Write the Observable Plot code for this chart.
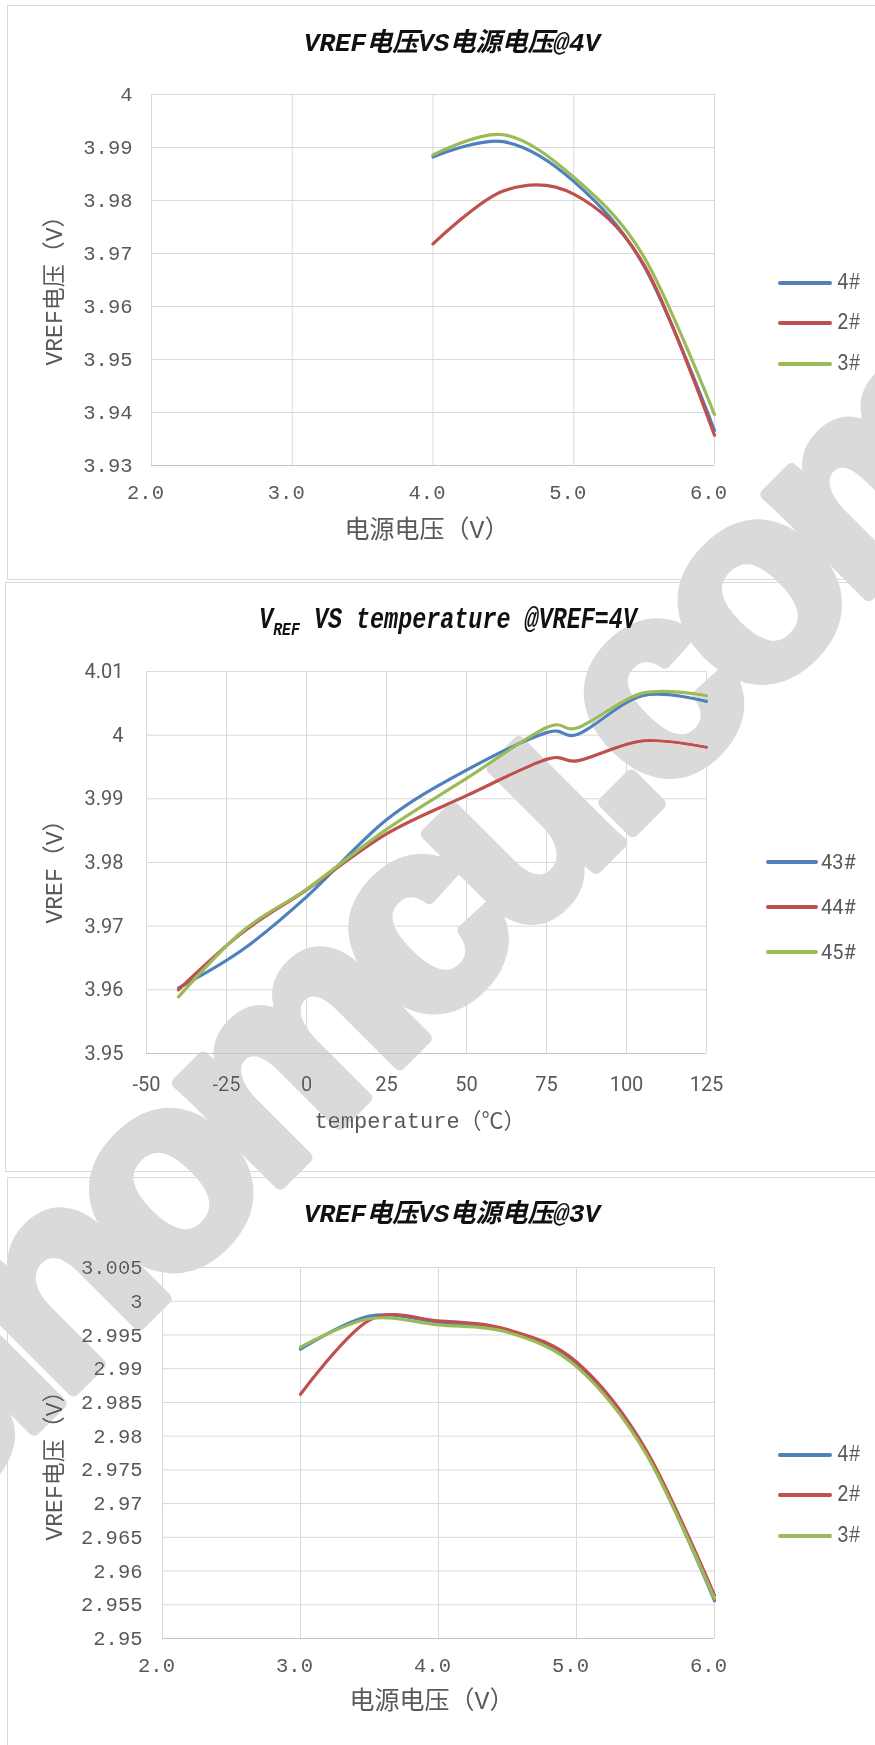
<!DOCTYPE html>
<html>
<head>
<meta charset="utf-8">
<script src="https://cdn.jsdelivr.net/npm/d3@7"></script>
<script src="https://cdn.jsdelivr.net/npm/@observablehq/plot@0.6"></script>
<style>
  body { margin: 0; background: #fff; }
  #page { position: relative; width: 875px; height: 1745px; overflow: hidden; background: #fff; }
  .frame { position: absolute; border: 1px solid #d9d9d9; box-sizing: border-box; }
  .abs { position: absolute; white-space: nowrap; line-height: 1; }
</style>
</head>
<body>
<div id="page"></div>
<script>
// ---------- Chart 1: VREF电压 VS 电源电压 @4V ----------
const supply4 = [4.0, 4.5, 5.0, 5.5, 6.0];
const vref4_4 = [3.9882, 3.9911, 3.9836, 3.9676, 3.9366];
const vref4_2 = [3.9718, 3.9818, 3.9812, 3.9678, 3.9357];
const vref4_3 = [3.9886, 3.9924, 3.9844, 3.9693, 3.9396];
const series1 = ["4#", "2#", "3#"];
const xTicks1 = [2, 3, 4, 5, 6];
const xLabels1 = ["2.0", "3.0", "4.0", "5.0", "6.0"];
const yTicks1 = [3.93, 3.94, 3.95, 3.96, 3.97, 3.98, 3.99, 4.00];
const yLabels1 = ["3.93", "3.94", "3.95", "3.96", "3.97", "3.98", "3.99", "4"];

// ---------- Chart 2: VREF VS temperature @VREF=4V ----------
const temps = [-40, -20, 0, 25, 50, 75, 85, 105, 125];
const vrefT_43 = [3.9603, 3.9663, 3.9746, 3.9867, 3.9945, 4.0004, 4.0002, 4.0062, 4.0053];
const vrefT_44 = [3.9600, 3.9690, 3.9757, 3.9845, 3.9905, 3.9962, 3.9960, 3.9991, 3.9981];
const vrefT_45 = [3.9589, 3.9692, 3.9758, 3.9852, 3.9932, 4.0012, 4.0012, 4.0066, 4.0062];
const series2 = ["43#", "44#", "45#"];
const xTicks2 = [-50, -25, 0, 25, 50, 75, 100, 125];
const xLabels2 = ["-50", "-25", "0", "25", "50", "75", "100", "125"];
const yTicks2 = [3.95, 3.96, 3.97, 3.98, 3.99, 4.00, 4.01];
const yLabels2 = ["3.95", "3.96", "3.97", "3.98", "3.99", "4", "4.01"];

// ---------- Chart 3: VREF电压 VS 电源电压 @3V ----------
const supply3 = [3.0, 3.5, 4.0, 4.5, 5.0, 5.5, 6.0];
const vref3_4 = [2.9929, 2.9978, 2.9969, 2.9956, 2.9906, 2.9777, 2.9556];
const vref3_2 = [2.9862, 2.9972, 2.9971, 2.9958, 2.9910, 2.9781, 2.9564];
const vref3_3 = [2.9932, 2.9974, 2.9965, 2.9954, 2.9903, 2.9775, 2.9559];
const series3 = ["4#", "2#", "3#"];
const xTicks3 = [2, 3, 4, 5, 6];
const xLabels3 = ["2.0", "3.0", "4.0", "5.0", "6.0"];
const yTicks3 = [2.95, 2.955, 2.96, 2.965, 2.97, 2.975, 2.98, 2.985, 2.99, 2.995, 3.00, 3.005];
const yLabels3 = ["2.95", "2.955", "2.96", "2.965", "2.97", "2.975", "2.98", "2.985", "2.99", "2.995", "3", "3.005"];

const colors = ["#4F81BD", "#C0504D", "#9BBB59"];
const sansFont = "Roboto, 'Noto Sans', sans-serif";
const monoFont = "'Liberation Mono', 'Noto Sans CJK SC', monospace";

const page = document.getElementById("page");

function addFrame(left, top, height) {
  const d = document.createElement("div");
  d.className = "frame";
  Object.assign(d.style, {left: left + "px", top: top + "px", width: "900px", height: height + "px"});
  page.appendChild(d);
}
addFrame(7, 5, 575);
addFrame(5, 582, 590);
addFrame(7, 1177, 600);

function addText(html, css) {
  const d = document.createElement("div");
  d.className = "abs";
  d.innerHTML = html;
  Object.assign(d.style, css);
  page.appendChild(d);
  return d;
}

function makeChart(cfg) {
  const rows = [];
  cfg.series.forEach((s, k) => cfg.xs.forEach((x, i) => rows.push({x, y: cfg.ys[k][i], s})));
  const xl = new Map(cfg.xTicks.map((t, i) => [t, cfg.xLabels[i]]));
  const yl = new Map(cfg.yTicks.map((t, i) => [t, cfg.yLabels[i]]));
  const svg = Plot.plot({
    width: 875,
    height: cfg.h,
    marginTop: cfg.mt, marginBottom: cfg.mb, marginLeft: cfg.ml, marginRight: cfg.mr,
    style: {background: "transparent", color: "#595959", fontSize: cfg.fs + "px", overflow: "visible"},
    x: {domain: cfg.xDomain, label: null},
    y: {domain: cfg.yDomain, label: null},
    color: {domain: cfg.series, range: colors},
    marks: [
      Plot.ruleX(cfg.xTicks, {stroke: "#d9d9d9", strokeWidth: 1}),
      Plot.ruleY(cfg.yTicks, {stroke: "#d9d9d9", strokeWidth: 1}),
      Plot.ruleY([cfg.yDomain[0]], {stroke: "#c4c4c4", strokeWidth: 1.2}),
      Plot.axisX(cfg.xTicks, {tickSize: 0, tickPadding: cfg.xPad, tickFormat: d => xl.get(d), label: null, dx: cfg.xdx || 0, fontSize: cfg.fs}),
      Plot.axisY(cfg.yTicks, {tickSize: 0, tickPadding: cfg.yPad, tickFormat: d => yl.get(d), label: null, fontSize: cfg.fs}),
      Plot.line(rows, {x: "x", y: "y", z: "s", stroke: "s", strokeWidth: 3.2, curve: d3.curveCardinal.tension(0), strokeLinecap: "round", strokeLinejoin: "round"})
    ]
  });
  svg.style.position = "absolute";
  svg.style.left = "0px";
  svg.style.top = cfg.top + "px";
  svg.querySelectorAll("text").forEach(el => {
    el.style.fontFamily = cfg.font;
    el.setAttribute("font-family", cfg.font);
  });
  page.appendChild(svg);

  // title
  addText(cfg.title, {left: cfg.titleX + "px", top: cfg.titleY + "px", color: "#111",
    fontWeight: "bold", fontStyle: "italic", fontFamily: monoFont, fontSize: cfg.titleSize + "px",
    transform: "translate(-50%,-50%)" + (cfg.titleScale ? ` scaleX(${cfg.titleScale})` : "")});
  // x axis title
  addText(cfg.xTitle, {left: cfg.xTitleX + "px", top: cfg.xTitleY + "px", color: "#595959",
    fontFamily: monoFont, fontSize: cfg.xTitleSize + "px", transform: "translate(-50%,-50%)"});
  // y axis title
  addText(cfg.yTitle, {left: "56px", top: cfg.yTitleY + "px", color: "#595959",
    fontFamily: monoFont, fontSize: cfg.yTitleSize + "px", transform: "translate(-50%,-50%) rotate(-90deg)"});
  // legend
  cfg.series.forEach((s, i) => {
    const y = cfg.legY[i];
    const sw = document.createElement("div");
    Object.assign(sw.style, {position: "absolute", left: cfg.legX0 + "px", top: (y - 1.6) + "px",
      width: (cfg.legX1 - cfg.legX0) + "px", height: "3.2px", background: colors[i], borderRadius: "2px"});
    page.appendChild(sw);
    addText(s, {left: cfg.legLabelX + "px", top: y + "px", color: "#595959", fontFamily: cfg.legFont,
      fontSize: cfg.legSize + "px", transformOrigin: "0 50%",
      transform: "translateY(-50%)" + (cfg.legScale ? ` scaleX(${cfg.legScale})` : "")});
  });
}

makeChart({
  top: 0, h: 580, mt: 94, mb: 115, ml: 151, mr: 161,
  xs: supply4, ys: [vref4_4, vref4_2, vref4_3], series: series1,
  xDomain: [2, 6], yDomain: [3.93, 4.00],
  xTicks: xTicks1, xLabels: xLabels1, yTicks: yTicks1, yLabels: yLabels1,
  font: monoFont, fs: 20.5, xPad: 19, yPad: 19, xdx: -6,
  title: "VREF电压VS电源电压@4V", titleX: 452, titleY: 44, titleSize: 26,
  xTitle: "电源电压（V）", xTitleX: 427, xTitleY: 531, xTitleSize: 25,
  yTitle: "VREF电压（V）", yTitleY: 285, yTitleSize: 23,
  legY: [283, 323, 364], legX0: 778, legX1: 832, legLabelX: 837, legFont: monoFont, legSize: 23, legScale: 0.85
});

makeChart({
  top: 582, h: 590, mt: 89, mb: 119, ml: 146, mr: 169,
  xs: temps, ys: [vrefT_43, vrefT_44, vrefT_45], series: series2,
  xDomain: [-50, 125], yDomain: [3.95, 4.01],
  xTicks: xTicks2, xLabels: xLabels2, yTicks: yTicks2, yLabels: yLabels2,
  font: sansFont, fs: 20, xPad: 23, yPad: 23, xdx: 0,
  title: "V<span style=\"font-size:19px;position:relative;top:7px\">REF</span> VS temperature @VREF=4V",
  titleX: 448, titleY: 620, titleSize: 30, titleScale: 0.78,
  xTitle: "temperature（℃）", xTitleX: 420, xTitleY: 1123, xTitleSize: 22,
  yTitle: "VREF（V）", yTitleY: 866, yTitleSize: 23,
  legY: [862, 907, 952], legX0: 766, legX1: 818, legLabelX: 821, legFont: sansFont, legSize: 20
});

makeChart({
  top: 1177, h: 568, mt: 90, mb: 107, ml: 162, mr: 161,
  xs: supply3, ys: [vref3_4, vref3_2, vref3_3], series: series3,
  xDomain: [2, 6], yDomain: [2.95, 3.005],
  xTicks: xTicks3, xLabels: xLabels3, yTicks: yTicks3, yLabels: yLabels3,
  font: monoFont, fs: 20.5, xPad: 19, yPad: 20, xdx: -6,
  title: "VREF电压VS电源电压@3V", titleX: 452, titleY: 1215, titleSize: 26,
  xTitle: "电源电压（V）", xTitleX: 432, xTitleY: 1702, xTitleSize: 25,
  yTitle: "VREF电压（V）", yTitleY: 1460, yTitleSize: 23,
  legY: [1455, 1495, 1536], legX0: 778, legX1: 832, legLabelX: 837, legFont: monoFont, legSize: 23, legScale: 0.85
});

// ---------- watermark ----------
const watermark = "sinomcu.com";
const ns = "http://www.w3.org/2000/svg";
const wm = document.createElementNS(ns, "svg");
wm.setAttribute("width", 875);
wm.setAttribute("height", 1745);
Object.assign(wm.style, {position: "absolute", left: "0px", top: "0px", mixBlendMode: "darken", pointerEvents: "none"});
const t = document.createElementNS(ns, "text");
t.setAttribute("transform", "translate(420,944) rotate(-45)");
t.setAttribute("text-anchor", "middle");
t.setAttribute("dy", "0.26em");
t.setAttribute("font-family", "'Liberation Sans', Arial, sans-serif");
t.setAttribute("font-weight", "bold");
t.setAttribute("font-size", "272");
t.setAttribute("letter-spacing", "-20");
t.setAttribute("fill", "#dadada");
t.setAttribute("stroke", "#dadada");
t.setAttribute("stroke-width", "12");
t.setAttribute("stroke-linejoin", "round");
t.textContent = watermark;
wm.appendChild(t);
page.appendChild(wm);
</script>
</body>
</html>
